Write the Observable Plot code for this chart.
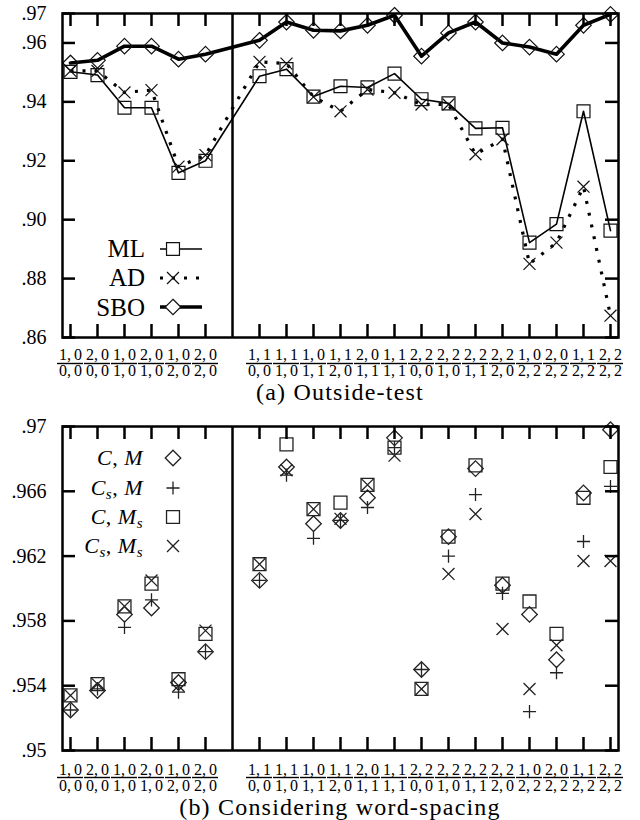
<!DOCTYPE html>
<html>
<head>
<meta charset="utf-8">
<script src="https://cdn.jsdelivr.net/npm/d3@7"></script>
<script src="https://cdn.jsdelivr.net/npm/@observablehq/plot@0.6"></script>
<style>
  html, body { margin: 0; padding: 0; background: #fff; }
  body { width: 640px; height: 820px; position: relative; overflow: hidden; font-family: "Liberation Serif", serif; }
  .panel { position: absolute; left: 0; }
  #overlay { position: absolute; left: 0; top: 0; pointer-events: none; }
</style>
</head>
<body>
<div id="topPanel" class="panel" style="top:0px"></div>
<div id="botPanel" class="panel" style="top:410px"></div>
<script>
// ---------------- data ----------------
const leftLabels  = ["1,0/0,0","2,0/0,0","1,0/1,0","2,0/1,0","1,0/2,0","2,0/2,0"];
const rightLabels = ["1,1/0,0","1,1/1,0","1,0/1,1","1,1/2,0","2,0/1,1","1,1/1,1","2,2/0,0",
                     "2,2/1,0","2,2/1,1","2,2/2,0","1,0/2,2","2,0/2,2","1,1/2,2","2,2/2,2"];
const gapKey = "|";

// (a) Outside-test
const topSeriesNames = ["ML", "AD", "SBO"];
const mlValues  = [.9502,.9491,.9380,.9380,.9159,.9200, .9487,.9511,.9418,.9453,.9449,.9496,.9409,.9395,.9310,.9312,.8922,.8985,.9368,.8963];
const adValues  = [.9505,.9505,.9432,.9440,.9180,.9219, .9536,.9530,.9417,.9368,.9442,.9431,.9391,.9391,.9222,.9273,.8850,.8922,.9112,.8674];
const sboValues = [.9532,.9541,.9589,.9589,.9545,.9562, .9609,.9671,.9643,.9641,.9660,.9694,.9555,.9634,.9671,.9600,.9586,.9562,.9660,.9697];
const topYTicks  = [.86, .88, .90, .92, .94, .96, .97];
const topYLabels = [".86", ".88", ".90", ".92", ".94", ".96", ".97"];
const topCaption = "(a) Outside-test";

// (b) Considering word-spacing
const cmValues   = [.9525,.9537,.9584,.9588,.9542,.9561, .9605,.9675,.9640,.9642,.9656,.9693,.9550,.9632,.9674,.9602,.9584,.9556,.9659,.9698];
const csmValues  = [.9525,.9538,.9576,.9593,.9536,.9561, .9605,.9670,.9631,.9642,.9650,.9687,.9550,.9620,.9658,.9597,.9524,.9548,.9629,.9663];
const cmsValues  = [.9534,.9541,.9589,.9603,.9544,.9572, .9615,.9689,.9649,.9653,.9664,.9687,.9538,.9632,.9676,.9603,.9592,.9572,.9656,.9675];
const csmsValues = [.9534,.9541,.9589,.9605,.9540,.9574, .9615,.9673,.9649,.9643,.9664,.9682,.9538,.9609,.9646,.9575,.9538,.9565,.9617,.9617];
const botYTicks  = [.95, .954, .958, .962, .966, .97];
const botYLabels = [".95", ".954", ".958", ".962", ".966", ".97"];
const botCaption = "(b) Considering word-spacing";

// ---------------- build ----------------
const cats = [...leftLabels, ...rightLabels];
const xDomain = [...leftLabels, gapKey, ...rightLabels];
const FONT = '"Liberation Serif", "DejaVu Serif", serif';
const W = 640, ML = 62, MR = 22;
const FW = W - ML - MR;

const sym = {
  square: {symbol: "square", r: 7.3},
  diamond: {symbol: "diamond2", r: 7.0},
  times: {symbol: "times", r: 5.5},
  plus: {symbol: "plus", r: 4.3}
};

function fracMarks(yLo, numDy, barDy, denDy) {
  return [
    Plot.text(cats, {x: d => d, text: d => d.split("/")[0].replace(",", ",\u2009"),
      frameAnchor: "bottom", lineAnchor: "bottom", dy: numDy, fontSize: 16, fill: "black"}),
    Plot.ruleY(cats, {x1: d => d, x2: d => d, y: () => yLo, dy: barDy,
      insetLeft: -13, insetRight: -13, strokeWidth: 1.4, stroke: "black"}),
    Plot.text(cats, {x: d => d, text: d => d.split("/")[1].replace(",", ",\u2009"),
      frameAnchor: "bottom", lineAnchor: "bottom", dy: denDy, fontSize: 16, fill: "black"})
  ];
}

function frameMarks(yTicks, yLabels, FH) {
  return [
    Plot.tickX(cats, {x: d => d, insetBottom: FH - 13, strokeWidth: 2.5, stroke: "black"}),
    Plot.tickX(cats, {x: d => d, insetTop: FH - 13, strokeWidth: 2.5, stroke: "black"}),
    Plot.tickY(yTicks, {y: d => d, insetRight: FW - 13, strokeWidth: 2.5, stroke: "black"}),
    Plot.tickY(yTicks, {y: d => d, insetLeft: FW - 13, strokeWidth: 2.5, stroke: "black"}),
    Plot.axisY(yTicks, {tickSize: 0, tickPadding: 16, fontSize: 20, fill: "black",
      tickFormat: d => yLabels[yTicks.indexOf(d)]}),
    Plot.ruleX([gapKey], {x: d => d, strokeWidth: 2.5, stroke: "black"}),
    Plot.frame({stroke: "black", strokeWidth: 2.5})
  ];
}

// Top panel
{
  const H = 400, MT = 13, MB = 63, FH = H - MT - MB;
  const rows = cats.map((k, i) => ({key: k, ml: mlValues[i], ad: adValues[i], sbo: sboValues[i]}));
  const yDom = [topYTicks[0], topYTicks[topYTicks.length - 1]];
  const p = Plot.plot({
    width: W, height: H, marginLeft: ML, marginRight: MR, marginTop: MT, marginBottom: MB,
    style: {fontFamily: FONT, background: "white", overflow: "visible"},
    x: {type: "point", domain: xDomain, padding: 0, axis: null},
    y: {domain: yDom, label: null},
    marks: [
      Plot.line(rows, {x: "key", y: "ml", stroke: "black", strokeWidth: 1.6}),
      Plot.line(rows, {x: "key", y: "ad", stroke: "black", strokeWidth: 3.2, strokeDasharray: "3,9", strokeLinecap: "butt"}),
      Plot.line(rows, {x: "key", y: "sbo", stroke: "black", strokeWidth: 3.6}),
      Plot.dot(rows, {x: "key", y: "ml", ...sym.square, stroke: "#111", strokeWidth: 1.2, fill: "none"}),
      Plot.dot(rows, {x: "key", y: "ad", ...sym.times, stroke: "#111", strokeWidth: 1.2}),
      Plot.dot(rows, {x: "key", y: "sbo", ...sym.diamond, stroke: "#111", strokeWidth: 1.2, fill: "none"}),
      ...fracMarks(yDom[0], 22, 26, 38),
      ...frameMarks(topYTicks, topYLabels, FH)
    ]
  });
  document.getElementById("topPanel").append(p);
}

// Bottom panel
{
  const H = 410, MT = 16, MB = 70, FH = H - MT - MB;
  const rows = cats.map((k, i) => ({key: k, cm: cmValues[i], csm: csmValues[i], cms: cmsValues[i], csms: csmsValues[i]}));
  const yDom = [botYTicks[0], botYTicks[botYTicks.length - 1]];
  const p = Plot.plot({
    width: W, height: H, marginLeft: ML, marginRight: MR, marginTop: MT, marginBottom: MB,
    style: {fontFamily: FONT, background: "white", overflow: "visible"},
    x: {type: "point", domain: xDomain, padding: 0, axis: null},
    y: {domain: yDom, label: null},
    marks: [
      Plot.dot(rows, {x: "key", y: "cm", ...sym.diamond, stroke: "#222", strokeWidth: 1.3, fill: "none"}),
      Plot.dot(rows, {x: "key", y: "csm", ...sym.plus, stroke: "#222", strokeWidth: 1.3}),
      Plot.dot(rows, {x: "key", y: "cms", ...sym.square, stroke: "#222", strokeWidth: 1.3, fill: "none"}),
      Plot.dot(rows, {x: "key", y: "csms", ...sym.times, stroke: "#222", strokeWidth: 1.3}),
      ...fracMarks(yDom[0], 24, 27, 40),
      ...frameMarks(botYTicks, botYLabels, FH)
    ]
  });
  document.getElementById("botPanel").append(p);
}

// ---------------- legends & captions (overlay) ----------------
const ov = d3.select("body").append("svg").attr("id", "overlay")
  .attr("width", 640).attr("height", 820)
  .style("font-family", FONT);

function symPath(type, r) {
  const t = {square: d3.symbolSquare, diamond2: d3.symbolDiamond2, times: d3.symbolTimes, plus: d3.symbolPlus}[type];
  return d3.symbol(t, Math.PI * r * r)();
}

// top legend
const topLegendRows = [
  {name: topSeriesNames[0], cy: 249, base: 257, s: sym.square, line: {w: 1.6, dash: null}},
  {name: topSeriesNames[1], cy: 278, base: 286, s: sym.times, line: {w: 3.2, dash: "3,9"}},
  {name: topSeriesNames[2], cy: 307, base: 315.5, s: sym.diamond, line: {w: 3.6, dash: null}}
];
for (const r of topLegendRows) {
  ov.append("text").attr("x", 145).attr("y", r.base).attr("text-anchor", "end")
    .attr("font-size", 25).text(r.name);
  ov.append("line").attr("x1", 160).attr("x2", 202).attr("y1", r.cy).attr("y2", r.cy)
    .attr("stroke", "black").attr("stroke-width", r.line.w)
    .attr("stroke-dasharray", r.line.dash);
  ov.append("path").attr("d", symPath(r.s.symbol, r.s.r)).attr("transform", `translate(173,${r.cy})`)
    .attr("fill", r.s.symbol === "times" ? "none" : "white").attr("stroke", "#111").attr("stroke-width", 1.2);
}

// bottom legend
const botLegendRows = [
  {parts: [["C", ""], [", ", "n"], ["M", ""]], cy: 458, base: 465, s: sym.diamond},
  {parts: [["C", ""], ["s", "sub"], [", ", "n"], ["M", ""]], cy: 488, base: 495, s: sym.plus},
  {parts: [["C", ""], [", ", "n"], ["M", ""], ["s", "sub"]], cy: 517, base: 524, s: sym.square},
  {parts: [["C", ""], ["s", "sub"], [", ", "n"], ["M", ""], ["s", "sub"]], cy: 546, base: 553, s: sym.times}
];
for (const r of botLegendRows) {
  const t = ov.append("text").attr("x", 143).attr("y", r.base).attr("text-anchor", "end")
    .attr("font-size", 22).attr("font-style", "italic").attr("letter-spacing", 0.5);
  let shifted = false;
  for (const [str, kind] of r.parts) {
    const ts = t.append("tspan").text(str);
    if (kind === "sub") { ts.attr("font-size", 15).attr("dy", 4); shifted = true; }
    else if (shifted) { ts.attr("dy", -4); shifted = false; }
    if (kind === "n") ts.attr("font-style", "normal");
  }
  ov.append("path").attr("d", symPath(r.s.symbol, r.s.r)).attr("transform", `translate(173,${r.cy})`)
    .attr("fill", "none").attr("stroke", "#222").attr("stroke-width", 1.3);
}

// captions (centred on the plot area)
ov.append("text").attr("x", 340).attr("y", 400).attr("text-anchor", "middle")
  .attr("font-size", 24).attr("letter-spacing", 1.2).text(topCaption);
ov.append("text").attr("x", 340).attr("y", 815).attr("text-anchor", "middle")
  .attr("font-size", 24).attr("letter-spacing", 1.2).text(botCaption);
</script>
</body>
</html>
